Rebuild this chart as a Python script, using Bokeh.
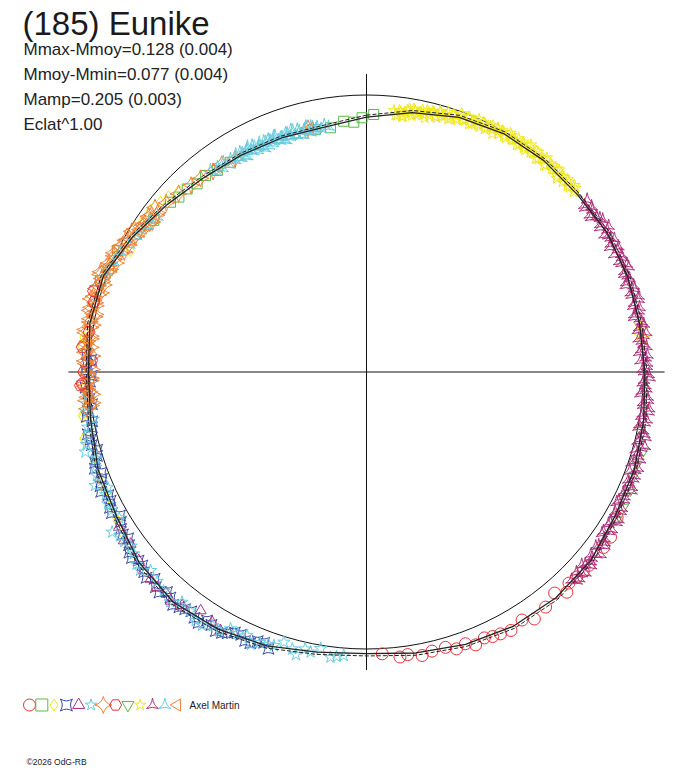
import numpy as np
from bokeh.plotting import figure
from bokeh.models import Range1d, Label
from bokeh.embed import file_html
from bokeh.resources import INLINE

# texts
title_text = "(185) Eunike"
info_lines = ["Mmax-Mmoy=0.128 (0.004)",
              "Mmoy-Mmin=0.077 (0.004)",
              "Mamp=0.205 (0.003)",
              "Eclat^1.00"]
observer = "Axel Martin"
credit = "\u00a92026 OdG-RB"

# fitted curve : relative flux against rotation phase (deg, clockwise from top)
fit_phase = [0, 10, 20, 30, 40, 50, 60, 70, 80, 90, 100, 110, 120, 130, 140, 150, 160, 170,
             180, 190, 200, 210, 220, 230, 240, 250, 260, 270, 280, 290, 300, 310, 320, 330,
             340, 350, 360]
fit_flux = [0.920, 0.951, 0.978, 0.993, 0.996, 0.995, 1.004, 1.004, 1.001, 1.005, 1.016, 1.029,
            1.037, 1.058, 1.064, 1.060, 1.046, 1.030, 1.017, 1.027, 1.052, 1.072, 1.085, 1.071,
            1.042, 1.031, 1.011, 1.004, 1.014, 1.011, 0.975, 0.940, 0.915, 0.904, 0.899, 0.897,
            0.920]

# sessions
s1_phase = [176.8, 173.3, 171.7, 168.9, 166.8, 164.0, 162.0, 160.0, 158.2, 156.1, 154.5, 152.9,
            150.8, 147.9, 145.8, 142.7, 139.6, 137.7, 136.2, 134.3, 132.6, 131.0, 126.5, 124.1, 120.1]
s1_flux = [1.019, 1.036, 1.031, 1.043, 1.035, 1.034, 1.051, 1.044, 1.061, 1.050, 1.058, 1.062,
           1.069, 1.057, 1.078, 1.067, 1.048, 1.075, 1.056, 1.060, 1.063, 1.064, 1.065, 1.064, 1.046]

s2_phase = [1.6, 359.0, 357.1, 354.8, 351.6, 348.1, 327.0, 323.5, 320.7, 318.0, 315.6, 313.0,
            310.9, 305.5, 296.0, 291.8, 289.0]
s2_flux = [0.930, 0.918, 0.903, 0.909, 0.891, 0.894, 0.903, 0.905, 0.917, 0.914, 0.925, 0.926,
           0.936, 0.943, 1.001, 1.002, 1.016]

s3_phase = [236.7, 239.2, 244.1, 246.0, 248.5, 252.6, 256.7, 256.8, 261.0, 261.3, 266.6, 275.3,
            277.0, 297.2, 304.0, 306.8, 309.5, 311.5, 314.0]
s3_flux = [1.055, 1.048, 1.034, 1.038, 1.038, 1.031, 1.049, 1.046, 1.036, 1.038, 1.022, 1.032,
           1.028, 0.958, 0.975, 0.974, 0.964, 0.955, 0.942]

s4_phase = [199.5, 202.0, 204.3, 206.8, 209.0, 211.5, 213.8, 216.2, 218.5, 221.0, 223.2, 225.7,
            228.0, 230.4, 232.7, 235.1, 237.4, 239.8, 242.1, 244.5, 246.8, 249.2, 251.5, 253.9,
            256.2, 258.6, 260.9, 263.3, 265.6, 268.0, 270.3, 272.5,
            200.7, 203.2, 205.5, 208.0, 210.2, 212.7, 215.0, 217.4, 219.7, 222.2, 224.4, 226.9,
            229.2, 231.6, 233.9, 236.3, 238.6, 241.0, 243.3, 245.7, 248.0, 250.4, 252.7, 255.1,
            257.4, 259.8, 262.1, 264.5, 266.8, 269.2, 271.5, 273.7]
s4_flux = [1.060, 1.048, 1.065, 1.054, 1.077, 1.071, 1.090, 1.071, 1.085, 1.079, 1.092, 1.069,
           1.080, 1.068, 1.076, 1.049, 1.052, 1.030, 1.048, 1.032, 1.045, 1.024, 1.033, 1.012,
           1.026, 1.011, 1.023, 0.998, 1.008, 0.999, 1.013, 0.995,
           1.045, 1.065, 1.051, 1.068, 1.082, 1.066, 1.083, 1.078, 1.093, 1.072, 1.087, 1.087,
           1.069, 1.081, 1.061, 1.057, 1.039, 1.051, 1.034, 1.051, 1.030, 1.041, 1.019, 1.026,
           1.031, 1.006, 1.016, 1.005, 1.016, 0.992, 1.008, 1.013]

s5_phase = [209.5, 211.7, 214.8, 218.3, 220.5, 222.3, 224.2, 226.2, 228.3, 230.4, 233.9, 235.2, 237.9]
s5_flux = [1.072, 1.061, 1.049, 1.074, 1.088, 1.076, 1.084, 1.080, 1.077, 1.067, 1.054, 1.067, 1.055]

s6_phase = [184.6, 187.2, 189.4, 191.3, 195.0, 197.0, 198.7, 201.5, 204.4, 207.9, 211.2, 214.5,
            218.7, 222.8, 227.4, 230.1, 232.0, 235.0, 237.8, 241.5, 244.8, 247.3, 250.6, 254.1,
            255.5, 258.8, 261.7, 265.0,
            186.0, 192.5, 194.0, 199.8, 203.0, 206.2, 209.6, 213.0, 216.4, 220.5, 225.0, 228.8,
            233.5, 236.4, 239.5, 243.0, 246.0, 249.0, 252.3, 257.2, 260.2, 263.5]
s6_flux = [1.027, 1.038, 1.012, 1.031, 1.035, 1.020, 1.043, 1.050, 1.044, 1.049, 1.071, 1.089,
           1.065, 1.078, 1.059, 1.082, 1.066, 1.068, 1.085, 1.048, 1.040, 1.062, 1.036, 1.055,
           1.044, 1.026, 1.020, 1.010,
           1.033, 1.024, 1.052, 1.045, 1.068, 1.052, 1.075, 1.090, 1.072, 1.091, 1.069, 1.086,
           1.057, 1.069, 1.037, 1.048, 1.023, 1.043, 1.025, 1.030, 1.001, 1.017]

s7_phase = [262.5, 263.6, 264.8, 265.9, 267.1, 268.2, 269.4, 270.5, 271.7, 272.8, 274.0, 275.1,
            276.3, 277.4, 278.6, 279.7, 280.9, 282.0, 283.2, 284.3, 285.5, 286.6, 287.8, 288.9,
            290.1, 291.2, 292.4, 293.5, 294.7, 295.8, 297.0, 298.1, 299.3, 300.4, 301.6, 302.7,
            303.9, 305.0, 306.2, 307.3, 310.2, 313.5, 316.8, 319.4, 322.6, 325.1, 328.3, 346.5,
            263.05, 264.15, 265.35, 266.45, 267.65, 268.75, 269.95, 271.05, 272.25, 273.35,
            274.55, 275.65, 276.85, 277.95, 279.15, 280.25, 281.45, 282.55, 283.75, 284.85,
            286.05, 287.15, 288.35, 289.45, 290.65, 291.75, 292.95, 294.05, 295.25, 296.35,
            297.55, 298.65, 299.85, 300.95, 302.15, 303.25, 304.45, 305.55, 306.75, 307.85]
s7_flux = [1.018, 0.995, 1.012, 1.002, 1.018, 0.996, 1.006, 0.990, 1.014, 1.002, 1.019, 0.999,
           1.014, 1.004, 1.027, 1.003, 1.017, 1.001, 1.022, 1.011, 1.023, 1.000, 1.018, 1.007,
           1.024, 0.998, 1.005, 0.986, 1.004, 0.987, 0.998, 0.973, 0.982, 0.967, 0.984, 0.955,
           0.964, 0.944, 0.962, 0.948, 0.946, 0.935, 0.925, 0.921, 0.912, 0.914, 0.903, 0.905,
           1.002, 1.018, 0.993, 1.009, 1.020, 0.995, 1.011, 1.002, 1.018, 0.991,
           1.013, 1.018, 1.002, 1.025, 1.009, 1.015, 1.002, 1.024, 1.006, 1.030,
           1.007, 1.023, 0.999, 1.014, 1.026, 0.997, 1.010, 0.998, 1.008, 0.976,
           0.992, 0.992, 0.970, 0.988, 0.966, 0.967, 0.949, 0.967, 0.946, 0.967]

s8_phase = [267.3, 267.6, 270.0, 272.4, 275.0, 278.2, 284.4, 286.5]
s8_flux = [1.034, 1.027, 1.021, 0.993, 1.030, 1.012, 1.016, 1.028]

s9_phase = [102.0, 105.9, 108.8, 111.0, 114.2, 117.7, 120.5]
s9_flux = [1.011, 1.040, 1.032, 1.036, 1.045, 1.049, 1.050]

s10_phase = [6.0, 6.8, 7.5, 8.1, 8.9, 9.6, 10.2, 11.0, 11.7, 12.5, 13.1, 13.9, 14.6, 15.4, 16.0,
             16.9, 17.5, 18.3, 19.1, 19.8, 20.6, 21.4, 22.0, 22.9, 23.6, 24.4, 25.1, 25.9, 26.8,
             27.4, 28.3, 29.0, 29.8, 30.7, 31.5, 32.2, 33.1, 33.9, 34.6, 35.5, 36.3, 37.2, 38.0,
             38.9, 39.7, 40.6, 41.5, 42.3, 43.2, 44.1, 45.0, 45.9, 46.8, 47.7, 48.6,
             80.3, 81.2, 82.4, 83.1,
             6.4, 7.2, 7.9, 8.5, 9.3, 10.0, 10.6, 11.4, 12.1, 12.9, 13.5, 14.3, 15.0, 15.8, 16.4,
             17.3, 17.9, 18.7, 19.5, 20.2, 21.0, 21.8, 22.4, 23.3, 24.0, 24.8, 25.5, 26.3, 27.2,
             27.8, 28.7, 29.4, 30.2, 31.1, 31.9, 32.6, 33.5, 34.3, 35.0, 35.9, 36.7, 37.6, 38.4,
             39.3, 40.1, 41.0, 41.9, 42.7, 43.6, 44.5, 45.4, 46.3, 47.2, 48.1, 49.0]
s10_flux = [0.949, 0.933, 0.947, 0.933, 0.957, 0.947, 0.965, 0.944, 0.957, 0.951, 0.970, 0.953,
            0.968, 0.952, 0.975, 0.966, 0.983, 0.965, 0.979, 0.966, 0.988, 0.975, 0.993, 0.973,
            0.988, 0.978, 0.996, 0.975, 0.994, 0.986, 1.001, 0.982, 0.997, 0.983, 1.002, 0.989,
            1.006, 0.987, 0.998, 0.984, 1.004, 0.992, 1.007, 0.987, 1.001, 0.984, 1.004, 0.993,
            1.006, 0.988, 1.000, 0.986, 1.003, 0.990, 1.004,
            1.000, 1.006, 0.995, 1.010,
            0.933, 0.952, 0.930, 0.948, 0.963, 0.940, 0.959, 0.952, 0.967, 0.941, 0.964, 0.971,
            0.955, 0.979, 0.963, 0.971, 0.959, 0.983, 0.969, 0.994, 0.973, 0.991, 0.968, 0.986,
            0.999, 0.975, 0.993, 0.985, 1.000, 0.973, 0.995, 1.000, 0.985, 1.007, 0.990, 0.995,
            0.982, 1.005, 0.988, 1.012, 0.989, 1.007, 0.983, 0.999, 1.011, 0.986, 1.003, 0.994,
            1.008, 0.980, 1.001, 1.005, 0.988, 1.009, 0.991]

s11_phase = [52.0, 53.1, 54.3, 55.4, 56.6, 57.7, 58.9, 60.0, 61.2, 62.3, 63.5, 64.6, 65.8, 66.9,
             68.1, 69.2, 70.4, 71.5, 72.7, 73.8, 75.0, 76.1, 77.3, 78.4, 79.6, 80.7, 81.9, 83.0,
             84.2, 85.3, 86.5, 87.6, 88.8, 89.9, 91.1, 92.2, 93.4, 94.5, 95.7, 96.8, 98.0, 99.1,
             100.3, 101.4, 102.6, 103.7, 104.9, 106.0, 107.2, 108.3, 109.5, 110.6, 111.8, 112.9,
             114.1, 115.2, 116.4, 117.5, 118.7, 119.8, 121.0, 122.1, 123.3, 124.4, 125.6, 126.7,
             127.9, 129.0, 130.2, 131.3, 132.5, 133.6, 134.8,
             52.55, 53.65, 54.85, 55.95, 57.15, 58.25, 59.45, 60.55, 61.75, 62.85, 64.05, 65.15,
             66.35, 67.45, 68.65, 69.75, 70.95, 72.05, 73.25, 74.35, 75.55, 76.65, 77.85, 78.95,
             80.15, 81.25, 82.45, 83.55, 84.75, 85.85, 87.05, 88.15, 89.35, 90.45, 91.65, 92.75,
             93.95, 95.05, 96.25, 97.35, 98.55, 99.65, 100.85, 101.95, 103.15, 104.25, 105.45,
             106.55, 107.75, 108.85, 110.05, 111.15, 112.35, 113.45, 114.65, 115.75, 116.95,
             118.05, 119.25, 120.35, 121.55, 122.65, 123.85, 124.95, 126.15, 127.25, 128.45,
             129.55, 130.75, 131.85, 133.05, 134.15, 135.35]
s11_flux = [1.011, 0.988, 1.004, 0.984, 1.009, 0.998, 1.021, 0.992, 1.006, 0.996, 1.016, 0.990,
            1.011, 1.001, 1.020, 0.995, 1.008, 0.987, 1.013, 0.997, 1.017, 0.992, 1.007, 0.986,
            1.010, 0.997, 1.020, 0.990, 1.005, 0.995, 1.016, 0.990, 1.012, 1.002, 1.022, 0.998,
            1.012, 0.992, 1.021, 1.006, 1.028, 1.005, 1.021, 1.002, 1.028, 1.016, 1.040, 1.011,
            1.027, 1.019, 1.040, 1.015, 1.037, 1.028, 1.048, 1.024, 1.038, 1.018, 1.046, 1.031,
            1.053, 1.031, 1.048, 1.030, 1.057, 1.046, 1.071, 1.044, 1.060, 1.051, 1.072, 1.047,
            1.069,
            0.991, 1.009, 0.986, 1.003, 1.015, 0.992, 1.010, 1.002, 1.016, 0.988, 1.009, 1.013,
            0.996, 1.018, 1.000, 1.005, 0.992, 1.014, 0.996, 1.020, 0.997, 1.013, 0.989, 1.005,
            1.016, 0.991, 1.009, 1.000, 1.015, 0.987, 1.009, 1.013, 0.997, 1.019, 1.002, 1.008,
            0.996, 1.019, 1.004, 1.029, 1.008, 1.026, 1.003, 1.021, 1.034, 1.010, 1.029, 1.021,
            1.037, 1.011, 1.033, 1.038, 1.022, 1.045, 1.028, 1.034, 1.022, 1.045, 1.029, 1.054,
            1.033, 1.052, 1.030, 1.049, 1.063, 1.040, 1.060, 1.054, 1.070, 1.043, 1.065, 1.070,
            1.054]

s12_phase = [329.0, 329.7, 330.4, 331.1, 331.8, 332.5, 333.2, 333.9, 334.6, 335.3, 336.0, 336.7,
             337.4, 338.1, 338.8, 339.5, 340.2, 340.9, 341.6, 342.3, 343.0, 343.7, 344.4, 345.1,
             345.8, 346.5, 347.2, 347.9,
             329.35, 330.05, 330.75, 331.45, 332.15, 332.85, 333.55, 334.25, 334.95, 335.65,
             336.35, 337.05, 337.75, 338.45, 339.15, 339.85, 340.55, 341.25, 341.95, 342.65,
             343.35, 344.05, 344.75, 345.45, 346.15, 346.85, 347.55, 348.25,
             322.3, 323.1, 324.0, 324.8, 325.7, 326.5, 327.4, 328.2, 348.6, 349.4, 350.3, 351.2,
             291.0, 293.5, 296.0, 298.2, 300.5, 302.1, 303.8, 305.0, 306.6]
s12_flux = [0.917, 0.895, 0.909, 0.890, 0.913, 0.902, 0.916, 0.891, 0.903, 0.895, 0.912, 0.889,
            0.906, 0.898, 0.915, 0.891, 0.902, 0.885, 0.908, 0.894, 0.912, 0.889, 0.904, 0.886,
            0.906, 0.894, 0.909, 0.890,
            0.899, 0.916, 0.892, 0.908, 0.920, 0.895, 0.909, 0.900, 0.914, 0.886,
            0.907, 0.911, 0.892, 0.914, 0.896, 0.901, 0.888, 0.910, 0.892, 0.916,
            0.893, 0.910, 0.886, 0.902, 0.913, 0.888, 0.905, 0.896,
            0.921, 0.903, 0.915, 0.900, 0.918, 0.897, 0.912, 0.899, 0.902, 0.893, 0.905, 0.896,
            1.005, 0.995, 0.990, 0.972, 0.965, 0.962, 0.950, 0.955, 0.940]

s13_phase = [347.1, 303.0, 282.0, 292.5]
s13_flux = [0.906, 0.965, 1.020, 1.000]

series = [
    (s1_phase, s1_flux, "circle", "#e8303a", 12, 0.0),
    (s2_phase, s2_flux, "square", "#5cb848", 10, 0.0),
    (s3_phase, s3_flux, "diamond", "#f0e81c", 12, 0.0),
    (s4_phase, s4_flux, "square_pin", "#3848a8", 11, 0.0),
    (s5_phase, s5_flux, "triangle", "#b0307c", 11, 0.0),
    (s6_phase, s6_flux, "star", "#66ccdd", 13, 0.0),
    (s7_phase, s7_flux, "square_pin", "#f08030", 12, np.pi / 4),
    (s8_phase, s8_flux, "hex", "#e8303a", 12, 0.0),
    (s9_phase, s9_flux, "inverted_triangle", "#5cb848", 10, 0.0),
    (s10_phase, s10_flux, "star", "#f0e81c", 12, 0.0),
    (s11_phase, s11_flux, "triangle_pin", "#b0307c", 12, 0.0),
    (s12_phase, s12_flux, "triangle_pin", "#66ccdd", 12, 0.0),
    (s13_phase, s13_flux, "triangle", "#f08030", 10, np.pi / 2),
]

# page pixel -> plot units (reference circle radius = 1)
W, H = 688, 768
S = 277.0
CX, CY = 366.0, 371.5


def page(xp, yp):
    return (xp - CX) / S, (CY - yp) / S


def polar(ph, fl):
    t = np.radians(np.asarray(ph, dtype=float))
    r = np.asarray(fl, dtype=float)
    return r * np.sin(t), r * np.cos(t)


p = figure(width=W, height=H,
           x_range=Range1d(-CX / S, (W - CX) / S),
           y_range=Range1d((CY - H) / S, CY / S),
           output_backend="svg", toolbar_location=None, min_border=0,
           x_axis_location=None, y_axis_location=None,
           outline_line_color=None, background_fill_color="white")
p.grid.visible = False

# reference circle and cross
p.circle(x=[0], y=[0], radius=1.0, fill_color=None, line_color="#111111", line_width=1)
L = 1.076
p.segment(x0=[-L, 0], y0=[0, -L], x1=[L, 0], y1=[0, L], line_color="#111111", line_width=1)

# observations
for ph, fl, mk, col, sz, ang in series:
    x, y = polar(ph, fl)
    p.scatter(x, y, marker=mk, size=sz, angle=ang, fill_color=None,
              line_color=col, line_width=1)

# fitted curve
fx, fy = polar(fit_phase, fit_flux)
p.line(fx, fy, line_color="#222222", line_width=1.3)
fx2, fy2 = polar(fit_phase, np.asarray(fit_flux) * 1.008)
p.line(fx2, fy2, line_color="#222222", line_width=1, line_dash="4 2")

# legend row
for i, (ph, fl, mk, col, sz, ang) in enumerate(series):
    lx, ly = page(29 + 12.3 * i, 704.5)
    p.scatter([lx], [ly], marker=mk, size=12, angle=ang, fill_color=None,
              line_color=col, line_width=1)

font = "Liberation Sans"
tx, ty = page(22, 23)
p.add_layout(Label(x=tx, y=ty, text=title_text, text_font=font, text_font_size="33px",
                   text_color="#1a1a1a", text_baseline="alphabetic"))
for k, line in enumerate(info_lines):
    lx, ly = page(23, 49 + 25 * k)
    p.add_layout(Label(x=lx, y=ly, text=line, text_font=font, text_font_size="17px",
                       text_color="#222222", text_baseline="alphabetic"))

ox, oy = page(189, 705)
p.add_layout(Label(x=ox, y=oy, text=observer, text_font=font, text_font_size="10px",
                   text_color="#222222", text_baseline="alphabetic"))
cx_, cy_ = page(26, 761)
p.add_layout(Label(x=cx_, y=cy_, text=credit, text_font=font, text_font_size="8.5px",
                   text_color="#222222", text_baseline="alphabetic"))

open("out.html", "w").write(file_html(p, INLINE))
